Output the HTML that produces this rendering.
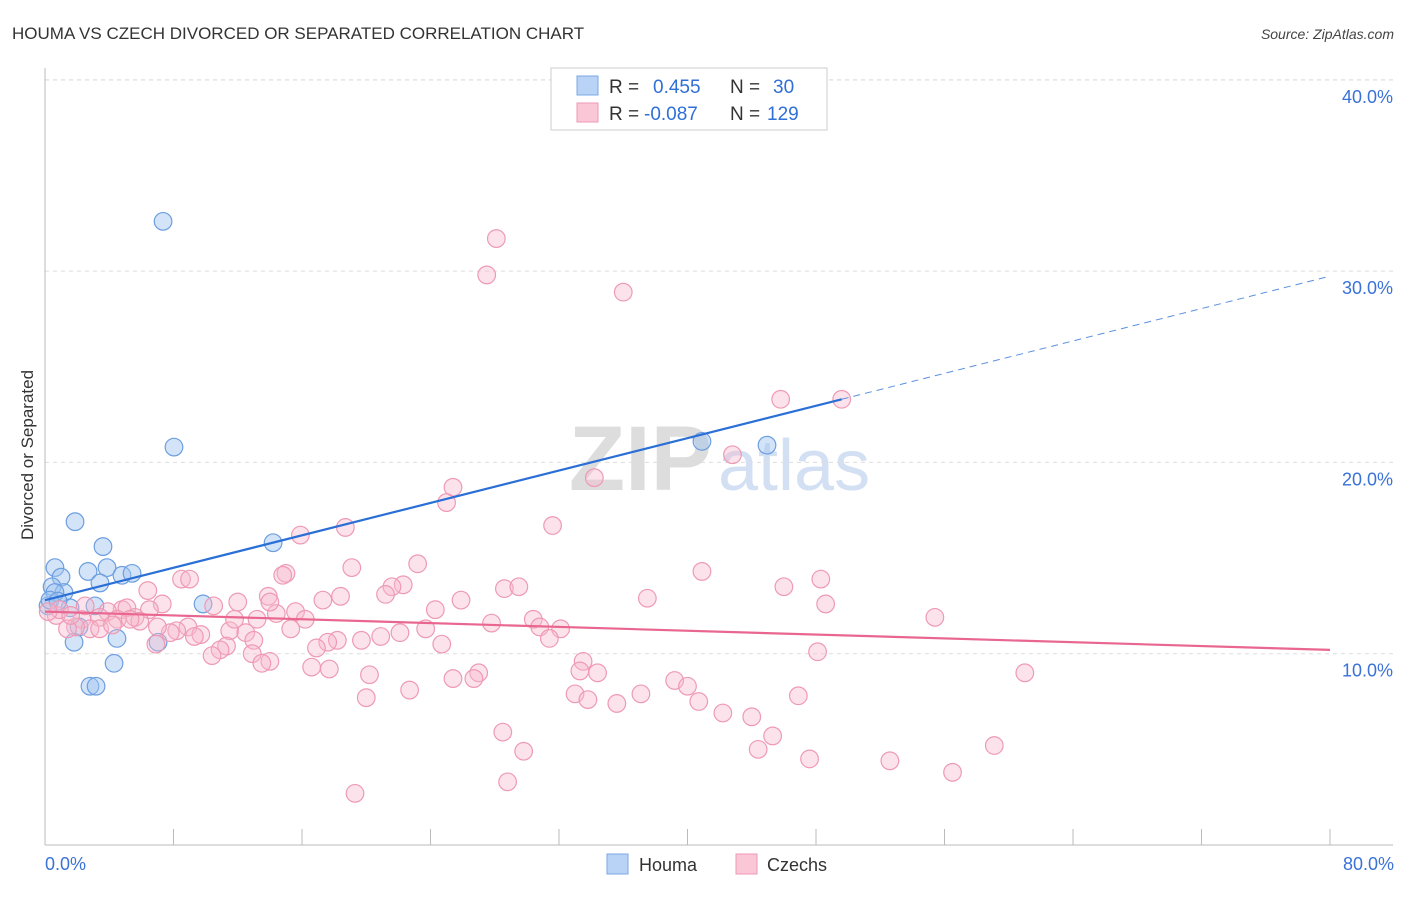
<!DOCTYPE html>
<html><head><meta charset="utf-8"><style>
body{margin:0;background:#fff;font-family:"Liberation Sans",sans-serif;}
svg text{font-family:"Liberation Sans",sans-serif;}
</style></head><body>
<svg id="chart" width="1406" height="892" xmlns="http://www.w3.org/2000/svg">
<text x="12" y="39" font-size="17" fill="#333">HOUMA VS CZECH DIVORCED OR SEPARATED CORRELATION CHART</text>
<text x="1394" y="39" font-size="14" fill="#444" text-anchor="end" font-style="italic">Source: ZipAtlas.com</text>
<g>
<text x="712" y="490" font-size="92" fill="#ddd" text-anchor="end" font-family="Liberation Serif" font-weight="bold">ZIP</text>
<text x="718" y="490" font-size="72" fill="#d3e0f3">atlas</text>
</g>
<g id="grid"></g>
<g id="axes"></g>
<g id="marks"></g>
<text transform="translate(33,455) rotate(-90)" font-size="17" fill="#333" text-anchor="middle">Divorced or Separated</text>
<g>
<rect x="551" y="68" width="276" height="62" fill="#fff" stroke="#ccc"/>
<rect x="577" y="76" width="21" height="19" fill="#b8d3f5" stroke="#7aa7e6"/>
<rect x="577" y="103" width="21" height="19" fill="#f9c7d6" stroke="#ee9ab5"/>
<text x="609" y="93" font-size="19" fill="#333">R =</text>
<text x="653" y="93" font-size="19" fill="#2f6fd6">0.455</text>
<text x="730" y="93" font-size="19" fill="#333">N =</text>
<text x="773" y="93" font-size="19" fill="#2f6fd6">30</text>
<text x="609" y="120" font-size="19" fill="#333">R =</text>
<text x="644" y="120" font-size="19" fill="#2f6fd6">-0.087</text>
<text x="730" y="120" font-size="19" fill="#333">N =</text>
<text x="767" y="120" font-size="19" fill="#2f6fd6">129</text>
</g>
<g>
<rect x="607" y="854" width="21" height="20" fill="#b8d3f5" stroke="#7aa7e6"/>
<text x="639" y="871" font-size="18" fill="#333">Houma</text>
<rect x="736" y="854" width="21" height="20" fill="#f9c7d6" stroke="#ee9ab5"/>
<text x="767" y="871" font-size="18" fill="#333">Czechs</text>
</g>
</svg>
<script>
const yTicks=[10,20,30,40];
const yTickLabels=["10.0%","20.0%","30.0%","40.0%"];
const xTickValues=[0,8,16,24,32,40,48,56,64,72,80];
const xEndLabels=["0.0%","80.0%"];
const houmaX=[7.35,8.03,1.87,3.61,0.62,3.86,2.68,1.0,4.79,5.42,3.42,0.44,1.18,0.62,1.56,3.11,9.84,0.19,2.12,4.48,1.81,7.04,4.3,2.8,3.18,14.2,40.9,44.95,0.31,0.81];
const houmaY=[32.6,20.8,16.9,15.6,14.5,14.5,14.3,14.0,14.1,14.2,13.7,13.5,13.2,13.2,12.4,12.5,12.6,12.5,11.4,10.8,10.6,10.6,9.5,8.3,8.3,15.8,21.1,20.9,12.8,12.75];
const czechX=[28.1,27.5,36.0,45.8,49.6,42.8,34.2,25.4,25.0,31.6,18.7,15.9,23.2,19.1,40.9,15.0,14.8,8.5,9.0,48.3,28.6,29.5,22.3,21.6,21.2,46.0,6.4,13.9,18.4,25.9,37.5,17.3,48.6,12.0,7.3,10.5,6.5,4.8,5.1,55.4,24.3,14.4,15.6,16.2,13.2,3.9,4.5,5.6,3.4,2.3,0.7,2.8,1.9,1.4,27.8,30.4,30.8,32.1,23.7,22.1,15.3,11.5,12.5,8.9,8.2,7.8,7.0,9.7,9.3,31.4,24.7,20.9,19.7,18.2,17.6,16.9,13.0,11.3,10.9,10.4,6.9,12.9,14.0,13.5,48.1,33.5,33.3,34.4,27.0,25.4,26.7,20.2,17.7,16.6,61.0,39.2,40.0,46.9,37.1,33.0,33.8,35.6,40.7,22.7,20.0,42.2,44.0,28.5,45.3,44.4,29.8,59.1,47.6,52.6,56.5,28.8,19.3,3.4,0.9,2.5,5.9,4.2,14.0,11.8,5.3,0.2,1.6];
const czechY=[31.7,29.8,28.9,23.3,23.3,20.4,19.2,18.7,17.9,16.7,16.6,16.2,14.7,14.5,14.3,14.2,14.1,13.9,13.9,13.9,13.4,13.5,13.6,13.5,13.1,13.5,13.3,13.0,13.0,12.8,12.9,12.8,12.6,12.7,12.6,12.5,12.3,12.3,12.4,11.9,12.3,12.1,12.2,11.8,11.8,12.2,11.8,11.9,11.9,11.8,12.0,11.3,11.4,11.3,11.6,11.8,11.4,11.3,11.3,11.1,11.3,11.2,11.1,11.4,11.2,11.1,11.4,11.0,10.9,10.8,10.5,10.9,10.7,10.7,10.6,10.3,10.7,10.4,10.2,9.9,10.5,10.0,9.6,9.5,10.1,9.6,9.1,9.0,9.0,8.7,8.7,8.9,9.2,9.3,9.0,8.6,8.3,7.8,7.9,7.9,7.6,7.4,7.5,8.1,7.7,6.9,6.7,5.9,5.7,5.0,4.9,5.2,4.5,4.4,3.8,3.3,2.7,11.3,12.3,12.5,11.7,11.5,12.7,11.8,11.8,12.2,12.0];
const houmaTrend=[12.8,0.2117];
const houmaSolidEnd=[49.6];
const czechTrend=[12.2,-0.025];

const NS="http://www.w3.org/2000/svg";
const X0=45,X1=1330,Y0=845,YPER=19.13;
function xs(v){return X0+(v/80)*(X1-X0);}
function ys(v){return Y0-v*YPER;}
function mk(tag,attrs,parent){const e=document.createElementNS(NS,tag);for(const k in attrs)e.setAttribute(k,attrs[k]);parent.appendChild(e);return e;}
const grid=document.getElementById('grid'),axes=document.getElementById('axes'),marks=document.getElementById('marks');
yTicks.forEach((t,i)=>{
  const l=mk('line',{x1:X0,x2:1393,y1:ys(t),y2:ys(t),stroke:'#ddd','stroke-dasharray':'4,4'},grid);
  
  
  const tx=mk('text',{x:1393,y:ys(t)+23,'font-size':18,fill:'#3a72d8','text-anchor':'end'},axes);
  tx.textContent=yTickLabels[i];
  
  
});
const topG=mk('line',{x1:X0,x2:1393,y1:80,y2:80,stroke:'#ddd','stroke-dasharray':'4,4'},grid);


const ax=mk('line',{x1:X0,x2:1393,y1:Y0,y2:Y0,stroke:'#bbb'},axes);


const ay=mk('line',{x1:X0,x2:X0,y1:68,y2:Y0,stroke:'#bbb'},axes);


xTickValues.forEach(v=>{
  const t=mk('line',{x1:xs(v),x2:xs(v),y1:829,y2:Y0,stroke:'#bbb'},axes);
  
  
});
[[0,'start',45],[80,'end',1394]].forEach((d,i)=>{
  const t=mk('text',{x:d[2],y:870,'font-size':18,fill:'#3a72d8','text-anchor':d[1]},axes);
  t.textContent=xEndLabels[i];
  
  
});
houmaX.forEach((x,i)=>{
  const c=mk('circle',{cx:xs(x),cy:ys(houmaY[i]),r:8.8,fill:'rgba(160,195,240,0.45)',stroke:'#6c9ee0','stroke-width':1.2},marks);
  
  
});
czechX.forEach((x,i)=>{
  const c=mk('circle',{cx:xs(x),cy:ys(czechY[i]),r:8.8,fill:'rgba(248,185,205,0.4)',stroke:'#ee9ab5','stroke-width':1.2},marks);
  
  
});
function tr(a,x){return a[0]+a[1]*x;}
const hs=mk('line',{x1:xs(0),y1:ys(tr(houmaTrend,0)),x2:xs(houmaSolidEnd[0]),y2:ys(tr(houmaTrend,houmaSolidEnd[0])),stroke:'#2a6fd6','stroke-width':2.2},marks);


const hd=mk('line',{x1:xs(houmaSolidEnd[0]),y1:ys(tr(houmaTrend,houmaSolidEnd[0])),x2:xs(80),y2:ys(tr(houmaTrend,80)),stroke:'#5b8fe0','stroke-width':1,'stroke-dasharray':'7,5'},marks);


const cl=mk('line',{x1:xs(0),y1:ys(tr(czechTrend,0)),x2:xs(80),y2:ys(tr(czechTrend,80)),stroke:'#e8668f','stroke-width':2.2},marks);


</script>
</body></html>
